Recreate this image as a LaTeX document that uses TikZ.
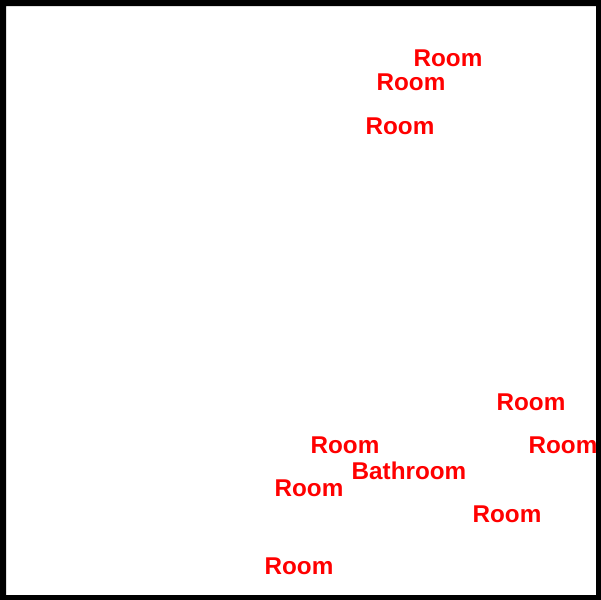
\documentclass[tikz,border=0pt]{standalone}
\usepackage{fontspec}
\setmainfont{Liberation Sans}
\usepackage{tikz}

\tikzset{
	room/.style={text=red,font=\fontsize{18.2}{21}\selectfont\bfseries,inner sep=0pt,anchor=center}
}

\begin{document}
\begin{tikzpicture}
	[x=0.75pt,y=-0.75pt]
	\useasboundingbox (0,0) rectangle (601,600);
	\fill[white] (0,0) rectangle (601,600);
	
	\node[room] (r1) at (448,58) {Room};
	\node[room] (r2) at (411,82) {Room};
	\node[room] (r3) at (400,126) {Room};
	
	\node[room] (r4) at (531,402) {Room};
	\node[room] (r5) at (345,445) {Room};
	\node[room] (r6) at (563,445) {Room};
	\node[room] (bath) at (409,470.5) {Bathroom};
	\node[room] (r7) at (309,488) {Room};
	\node[room] (r8) at (507,514) {Room};
	\node[room] (r9) at (299,566) {Room};
	
	% frame
	\fill[black,even odd rule] (0,0) rectangle (601,600) (6,6) rectangle (596,595);
\end{tikzpicture}
\end{document}
